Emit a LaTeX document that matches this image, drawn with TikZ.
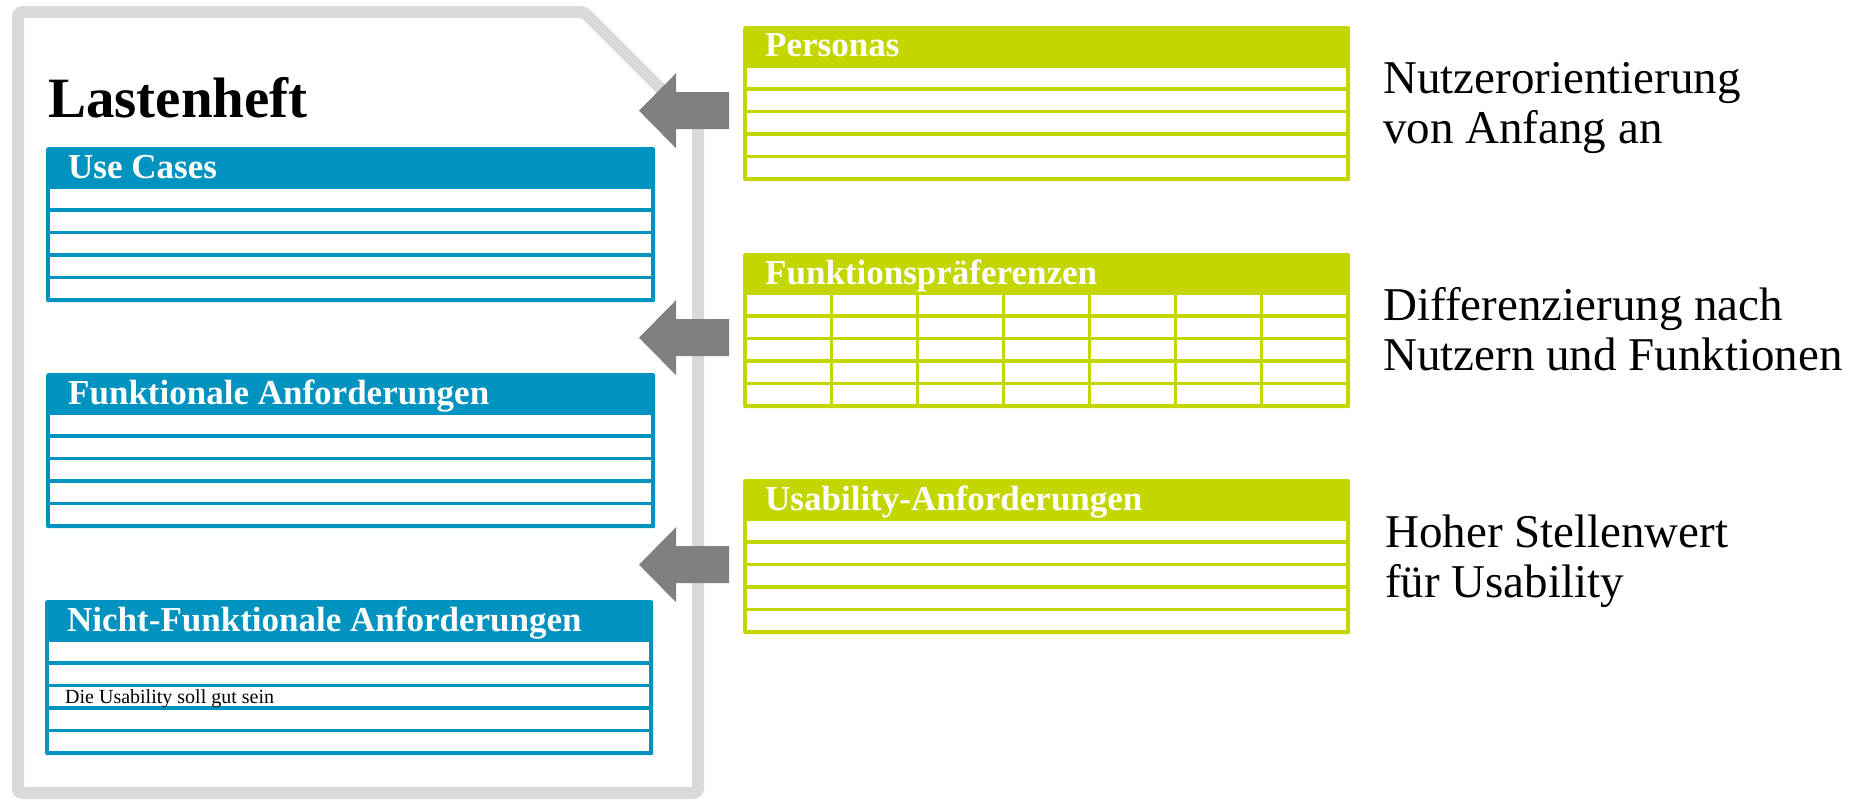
\documentclass[tikz,border=0pt]{standalone}
\usepackage{fontspec}
\setmainfont{Liberation Serif}
\definecolor{ublue}{HTML}{0093C0}
\definecolor{ugreen}{HTML}{C4D600}
\definecolor{docgray}{HTML}{D9D9D9}
\definecolor{arrgray}{HTML}{808080}

\newcommand\listbox[7]{%
  \node[name=#1, fill=#5, rounded corners=2pt, anchor=north west, inner sep=0pt,
        minimum width={#4-#2}, minimum height=155] at (#2,#3) {};
  \pgfmathsetmacro\cellw{(#4-#2-8-(#7-1)*3.5)/#7}
  \foreach \k in {0,...,4}{
    \foreach \j in {1,...,#7}{
      \pgfmathsetmacro\xa{#2+4+(\j-1)*(\cellw+3.5)}
      \pgfmathsetmacro\ya{#3+42+22.6*\k}
      \fill[white] (\xa,\ya) rectangle ++(\cellw,19);
    }
  }
  \node[hdr, name=#1-title] at (#2+22,#3+31) {#6};
}
\newcommand\bigarrow[2]{%
  \fill[arrgray] ([shift={(-14,#2-18.5)}]#1.west) -- ++(-53,0) -- ++(0,-19)
     -- ++(-37,37.5) -- ++(37,37.5) -- ++(0,-19) -- ++(53,0) -- cycle;
}

\begin{document}
\begin{tikzpicture}[x=1pt,y=-1pt,
  hdr/.style={anchor=base west, inner sep=0pt, text=white,
              font=\fontsize{35}{40}\selectfont\bfseries},
  note/.style={anchor=base west, inner sep=0pt, align=left,
               font=\fontsize{47}{50}\selectfont},
]
\useasboundingbox (0,0) rectangle (1860,800);

% document outline
\draw[docgray, line width=12pt, rounded corners=4pt, line join=round]
  (18,12) -- (584,12) -- (698,126) -- (698,793) -- (18,793) -- cycle;

\node[anchor=base west, inner sep=0pt, font=\fontsize{57}{60}\selectfont\bfseries]
  (doctitle) at (48,117) {Lastenheft};

% blue lists
\listbox{uc}{46}{147}{655}{ublue}{Use Cases}{1}
\listbox{fa}{46}{373}{655}{ublue}{Funktionale Anforderungen}{1}
\listbox{nfa}{45}{600}{653}{ublue}{Nicht-Funktionale Anforderungen}{1}
\node[anchor=base west, inner sep=0pt, font=\fontsize{20}{22}\selectfont]
  (usab) at (65,703) {Die Usability soll gut sein};

% green lists
\listbox{pers}{743}{26}{1350}{ugreen}{Personas}{1}
\listbox{fp}{743}{253}{1350}{ugreen}{Funktionspräferenzen}{7}
\listbox{ua}{743}{479}{1350}{ugreen}{Usability-Anforderungen}{1}

% arrows
\bigarrow{pers}{7}
\bigarrow{fp}{7}
\bigarrow{ua}{8}

% notes (base anchor = baseline of the last line)
\node[note] (n1) at (1383,143) {Nutzerorientierung\\von Anfang an};
\node[note] (n2) at (1383,370) {Differenzierung nach\\Nutzern und Funktionen};
\node[note] (n3) at (1385,597) {Hoher Stellenwert\\für Usability};
\end{tikzpicture}
\end{document}
